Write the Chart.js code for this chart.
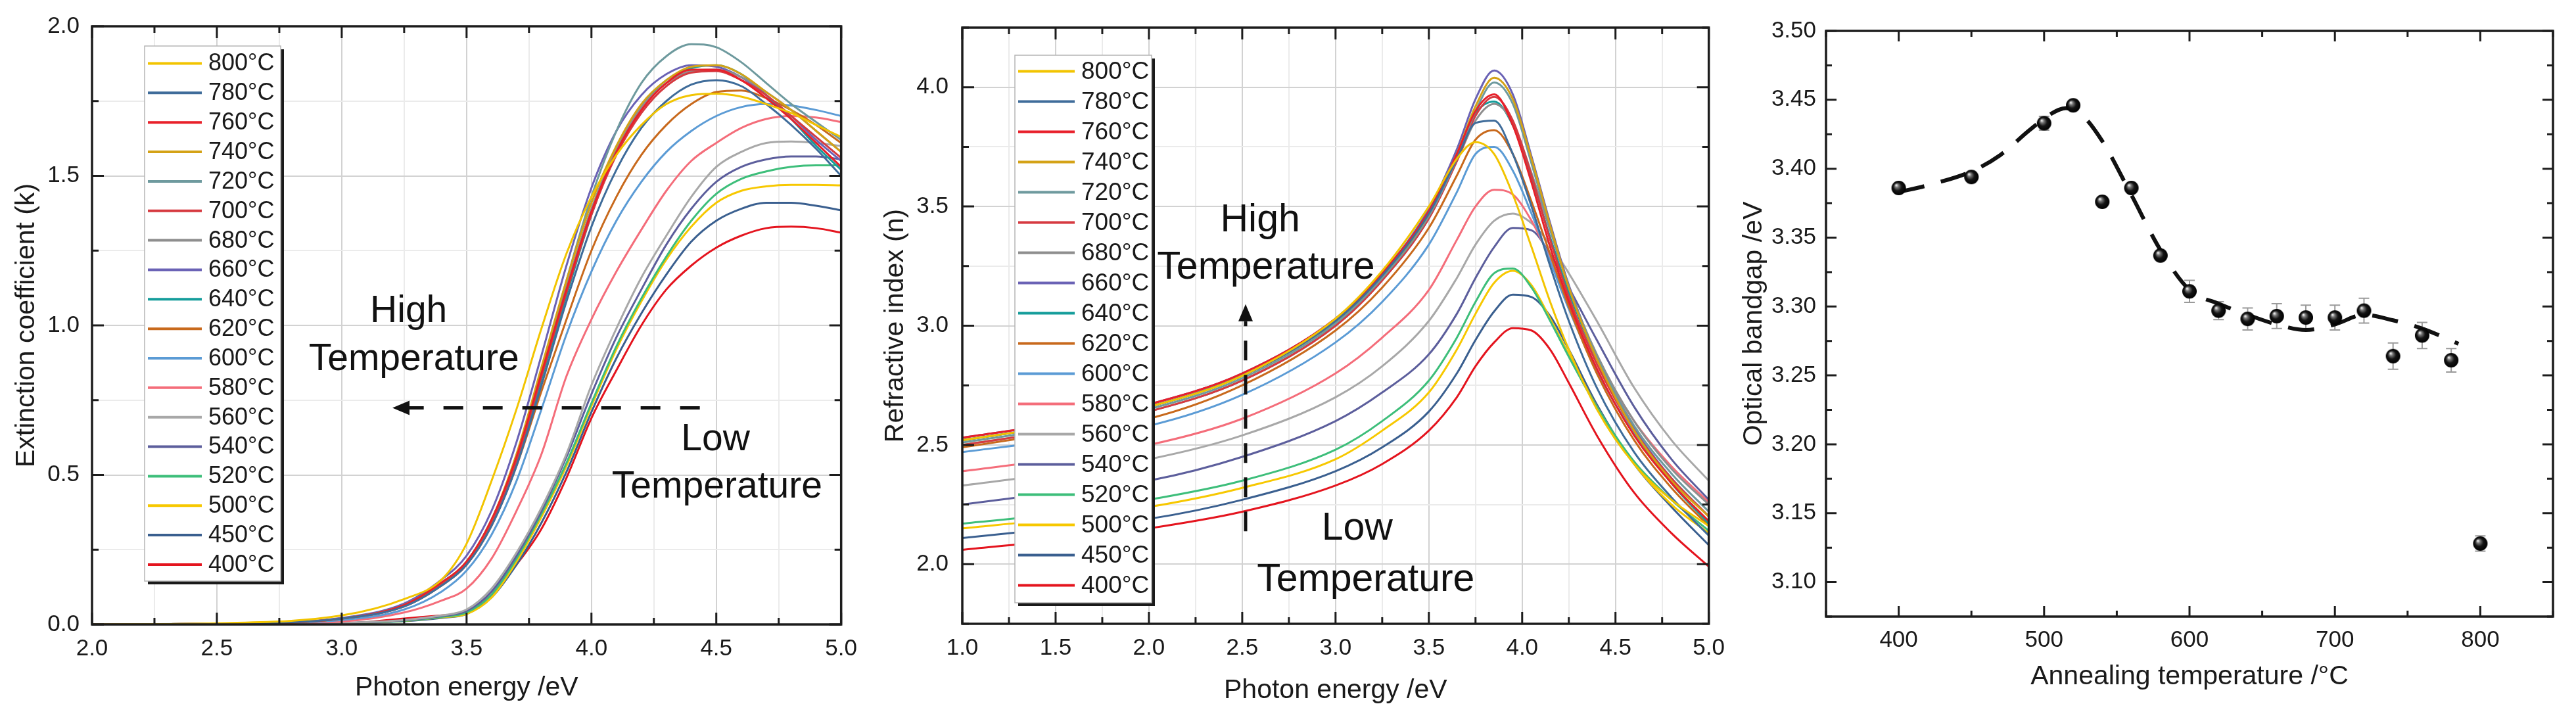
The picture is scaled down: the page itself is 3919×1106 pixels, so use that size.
<!DOCTYPE html>
<html><head><meta charset="utf-8">
<script src="https://cdn.jsdelivr.net/npm/chart.js@4.4.1/dist/chart.umd.min.js"></script>
<style>
html,body{margin:0;padding:0;background:#fff;width:3919px;height:1106px;overflow:hidden}
.p{position:absolute;top:0;height:1106px}
canvas{display:block}
</style></head><body>
<div class="p" style="left:0;width:1320px"><canvas id="c1" width="1320" height="1106"></canvas></div>
<div class="p" style="left:1320px;width:1320px"><canvas id="c2" width="1320" height="1106"></canvas></div>
<div class="p" style="left:2640px;width:1279px"><canvas id="c3" width="1279" height="1106"></canvas></div>
<script>
// ---------------- DATA ----------------
const temperatures = ['800°C','780°C','760°C','740°C','720°C','700°C','680°C','660°C','640°C','620°C','600°C','580°C','560°C','540°C','520°C','500°C','450°C','400°C'];

// Extinction coefficient k vs photon energy (eV)
const kEnergy = [2.0,2.5,3.0,3.25,3.4,3.5,3.6,3.7,3.8,3.9,4.0,4.1,4.2,4.3,4.4,4.5,4.6,4.7,4.8,4.9,5.0];
const k800 = [0,0.004,0.03,0.085,0.15,0.27,0.48,0.72,0.99,1.24,1.43,1.57,1.67,1.74,1.77,1.775,1.765,1.74,1.71,1.67,1.63];
const k780 = [0,0.002,0.02,0.06,0.13,0.2,0.33,0.53,0.8,1.08,1.33,1.52,1.66,1.75,1.805,1.82,1.8,1.74,1.67,1.59,1.5];
const k760 = [0,0.002,0.02,0.065,0.14,0.21,0.35,0.56,0.84,1.12,1.38,1.58,1.72,1.81,1.855,1.855,1.82,1.76,1.69,1.61,1.53];
const k740 = [0,0.002,0.02,0.065,0.14,0.21,0.35,0.57,0.86,1.15,1.41,1.6,1.74,1.82,1.865,1.87,1.84,1.78,1.72,1.65,1.58];
const k720 = [0,0.002,0.02,0.065,0.14,0.21,0.35,0.56,0.85,1.15,1.43,1.65,1.81,1.9,1.94,1.93,1.88,1.81,1.74,1.68,1.62];
const k700 = [0,0.002,0.02,0.062,0.135,0.2,0.34,0.55,0.83,1.11,1.37,1.57,1.71,1.8,1.845,1.85,1.82,1.77,1.7,1.63,1.56];
const k680 = [0,0.002,0.02,0.063,0.138,0.21,0.35,0.56,0.84,1.13,1.39,1.59,1.73,1.81,1.85,1.855,1.83,1.78,1.72,1.65,1.58];
const k660 = [0,0.002,0.022,0.07,0.15,0.23,0.38,0.61,0.9,1.2,1.46,1.65,1.77,1.84,1.87,1.865,1.83,1.77,1.7,1.62,1.55];
const k640 = [0,0.002,0.02,0.062,0.135,0.2,0.34,0.54,0.82,1.1,1.37,1.58,1.73,1.82,1.86,1.87,1.84,1.77,1.69,1.6,1.52];
const k620 = [0,0.002,0.02,0.06,0.13,0.2,0.33,0.53,0.78,1.02,1.25,1.43,1.57,1.67,1.74,1.78,1.785,1.76,1.72,1.67,1.61];
const k600 = [0,0.002,0.015,0.05,0.11,0.18,0.3,0.48,0.72,0.97,1.18,1.35,1.48,1.58,1.65,1.7,1.73,1.74,1.735,1.72,1.7];
const k580 = [0,0.001,0.01,0.04,0.08,0.12,0.22,0.38,0.57,0.83,1.02,1.18,1.32,1.45,1.55,1.61,1.66,1.69,1.7,1.695,1.68];
const k560 = [0,0,0.005,0.015,0.03,0.05,0.12,0.24,0.39,0.57,0.8,0.99,1.16,1.3,1.43,1.53,1.58,1.61,1.615,1.61,1.6];
const k540 = [0,0,0.005,0.014,0.028,0.045,0.11,0.23,0.38,0.56,0.77,0.96,1.12,1.27,1.39,1.48,1.53,1.555,1.565,1.565,1.555];
const k520 = [0,0,0.004,0.012,0.025,0.04,0.1,0.22,0.37,0.54,0.74,0.93,1.09,1.23,1.35,1.44,1.49,1.515,1.53,1.535,1.535];
const k500 = [0,0,0.004,0.012,0.024,0.035,0.09,0.21,0.36,0.53,0.73,0.92,1.08,1.22,1.33,1.41,1.45,1.465,1.47,1.47,1.468];
const k450 = [0,0,0.004,0.011,0.022,0.035,0.09,0.2,0.34,0.51,0.71,0.89,1.04,1.17,1.28,1.35,1.39,1.41,1.41,1.4,1.385];
const k400 = [0,0,0.003,0.02,0.03,0.04,0.1,0.2,0.32,0.49,0.69,0.85,1.0,1.12,1.2,1.26,1.3,1.325,1.33,1.325,1.31];

// Refractive index n vs photon energy (eV)
const nEnergy = [1.0,1.5,2.0,2.5,3.0,3.25,3.5,3.65,3.75,3.85,3.95,4.05,4.15,4.25,4.4,4.6,4.8,5.0];
const n800 = [2.52,2.58,2.66,2.79,3.03,3.23,3.5,3.7,3.77,3.72,3.55,3.33,3.1,2.9,2.65,2.42,2.27,2.16];
const n780 = [2.52,2.58,2.66,2.79,3.02,3.21,3.47,3.7,3.85,3.86,3.72,3.5,3.25,3.02,2.74,2.47,2.28,2.12];
const n760 = [2.53,2.59,2.67,2.8,3.03,3.22,3.48,3.72,3.9,3.97,3.84,3.6,3.33,3.1,2.82,2.54,2.34,2.18];
const n740 = [2.52,2.58,2.66,2.79,3.02,3.21,3.47,3.72,3.92,4.04,3.95,3.7,3.42,3.16,2.86,2.56,2.35,2.2];
const n720 = [2.51,2.57,2.65,2.78,3.01,3.2,3.46,3.7,3.9,4.02,3.93,3.68,3.41,3.16,2.87,2.58,2.38,2.22];
const n700 = [2.5,2.56,2.64,2.77,3.0,3.19,3.45,3.69,3.88,3.96,3.86,3.63,3.36,3.12,2.84,2.56,2.36,2.2];
const n680 = [2.5,2.56,2.64,2.77,3.0,3.19,3.45,3.69,3.86,3.93,3.85,3.64,3.4,3.16,2.88,2.6,2.4,2.25];
const n660 = [2.53,2.59,2.67,2.8,3.03,3.22,3.49,3.74,3.95,4.07,3.97,3.71,3.43,3.17,2.87,2.57,2.36,2.2];
const n640 = [2.52,2.58,2.66,2.79,3.02,3.21,3.47,3.71,3.89,3.94,3.84,3.62,3.37,3.14,2.86,2.56,2.34,2.17];
const n620 = [2.49,2.55,2.61,2.75,2.98,3.16,3.41,3.63,3.78,3.82,3.72,3.52,3.3,3.08,2.8,2.52,2.32,2.16];
const n600 = [2.47,2.52,2.58,2.71,2.93,3.1,3.34,3.56,3.72,3.75,3.65,3.47,3.27,3.07,2.81,2.55,2.36,2.2];
const n580 = [2.39,2.44,2.5,2.61,2.8,2.95,3.15,3.36,3.5,3.57,3.55,3.44,3.28,3.1,2.86,2.6,2.41,2.26];
const n560 = [2.33,2.38,2.44,2.54,2.7,2.83,3.02,3.2,3.34,3.44,3.47,3.43,3.34,3.22,3.02,2.74,2.52,2.35];
const n540 = [2.25,2.3,2.35,2.45,2.6,2.72,2.88,3.05,3.2,3.33,3.41,3.4,3.3,3.16,2.94,2.66,2.44,2.27];
const n520 = [2.17,2.21,2.27,2.35,2.48,2.6,2.77,2.95,3.1,3.22,3.24,3.16,3.02,2.87,2.66,2.43,2.27,2.14];
const n500 = [2.15,2.19,2.24,2.32,2.44,2.56,2.72,2.9,3.05,3.18,3.23,3.17,3.03,2.88,2.66,2.42,2.25,2.13];
const n450 = [2.11,2.15,2.19,2.27,2.39,2.49,2.64,2.8,2.94,3.06,3.13,3.12,3.04,2.9,2.67,2.42,2.24,2.08];
const n400 = [2.06,2.1,2.15,2.22,2.33,2.42,2.56,2.7,2.83,2.93,2.99,2.98,2.9,2.76,2.54,2.3,2.13,1.99];

// Optical bandgap vs annealing temperature
const annealTemps = [400,450,500,520,540,560,580,600,620,640,660,680,700,720,740,760,780,800];
const bandgap = [3.386,3.394,3.433,3.446,3.376,3.386,3.337,3.311,3.297,3.291,3.293,3.292,3.292,3.297,3.264,3.279,3.261,3.128];
const bandgapErr = [0.002,0.002,0.005,0.002,0.002,0.002,0.003,0.008,0.0065,0.008,0.009,0.009,0.009,0.009,0.0095,0.0095,0.0085,0.0055];
const fitTemps = [400,420,450,470,490,505,515,525,540,560,580,600,620,640,660,680,700,720,740,760,785];
const fitBandgap = [3.383,3.388,3.398,3.41,3.428,3.44,3.444,3.44,3.42,3.381,3.341,3.312,3.302,3.294,3.287,3.283,3.287,3.294,3.29,3.284,3.273];

// ---------------- STYLE ----------------
const seriesColors = ['#F2C400','#3F6C9A','#E8202A','#D4A216','#6E9A9E','#D63A40','#8E8E8E','#6A62B5','#159D9B','#C8691C','#5B9BD5','#F46D7A','#A8A8A8','#5C5E9C','#3DBE7A','#F7C800','#3A5F8F','#E4141E'];
const kSeries = [k800,k780,k760,k740,k720,k700,k680,k660,k640,k620,k600,k580,k560,k540,k520,k500,k450,k400];
const nSeries = [n800,n780,n760,n740,n720,n700,n680,n660,n640,n620,n600,n580,n560,n540,n520,n500,n450,n400];

const FONT = '"Liberation Sans", Arial, Helvetica, sans-serif';
Chart.defaults.font.family = FONT;
Chart.defaults.color = '#1a1a1a';

function isMult(v, step){ const r = v/step; return Math.abs(r - Math.round(r)) < 1e-6; }

function makeAxis(o){
  return {
    type:'linear', min:o.min, max:o.max,
    afterFit(scale){ if (o.isX) scale.height = o.size; else scale.width = o.size; },
    ticks:{ stepSize:o.step, autoSkip:false, maxRotation:0, padding:o.tickPad, color:'#1a1a1a',
      font:{size:o.tickSize},
      callback:(v)=> isMult(v,o.major) ? Number(v).toFixed(o.dec) : '' },
    grid:{ display:o.grid, drawTicks:false, lineWidth:2,
      color:(c)=> (c.tick && isMult(c.tick.value,o.major)) ? '#d2d2d2' : '#ebebeb' },
    border:{ display:false },
    title:{ display:true, text:o.title, color:'#1a1a1a', font:{size:o.titleSize}, padding:o.titlePad }
  };
}

function drawFrame(chart, xStep, yStep, majL, minL){
  const {ctx, chartArea:{left,right,top,bottom}, scales:{x,y}} = chart;
  ctx.save();
  ctx.strokeStyle = '#1c1c1c'; ctx.lineWidth = 3; ctx.setLineDash([]);
  ctx.beginPath();
  x.ticks.forEach(t=>{ const px = x.getPixelForValue(t.value); const L = isMult(t.value,xStep)?majL:minL;
    ctx.moveTo(px,bottom); ctx.lineTo(px,bottom-L); ctx.moveTo(px,top); ctx.lineTo(px,top+L); });
  y.ticks.forEach(t=>{ const py = y.getPixelForValue(t.value); const L = isMult(t.value,yStep)?majL:minL;
    ctx.moveTo(left,py); ctx.lineTo(left+L,py); ctx.moveTo(right,py); ctx.lineTo(right-L,py); });
  ctx.stroke();
  ctx.lineWidth = 3.5;
  ctx.strokeRect(left,top,right-left,bottom-top);
  ctx.restore();
}

function drawLegend(chart, box){
  const ctx = chart.ctx;
  ctx.save();
  ctx.fillStyle = '#1a1a1a';
  ctx.fillRect(box.x+5, box.y+5, box.w, box.h);
  ctx.fillStyle = '#fff';
  ctx.fillRect(box.x, box.y, box.w, box.h);
  ctx.strokeStyle = '#b5b5b5'; ctx.lineWidth = 1.5;
  ctx.strokeRect(box.x, box.y, box.w, box.h);
  ctx.font = box.font + 'px ' + FONT;
  ctx.textBaseline = 'middle'; ctx.textAlign = 'left';
  chart.data.datasets.forEach((ds,i)=>{
    const yy = box.first + i*box.step;
    ctx.strokeStyle = ds.borderColor; ctx.lineWidth = 4;
    ctx.beginPath(); ctx.moveTo(box.x+5, yy); ctx.lineTo(box.x+5+box.line, yy); ctx.stroke();
    ctx.fillStyle = '#1a1a1a';
    ctx.fillText(ds.label, box.x+box.line+15, yy+1);
  });
  ctx.restore();
}

function drawText(chart, items, size){
  const {ctx, scales:{x,y}} = chart;
  ctx.save();
  ctx.fillStyle = '#111'; ctx.font = size+'px ' + FONT;
  ctx.textAlign = 'center'; ctx.textBaseline = 'alphabetic';
  items.forEach(it=> ctx.fillText(it.t, x.getPixelForValue(it.x), y.getPixelForValue(it.y)));
  ctx.restore();
}

function drawArrow(chart, a){
  const {ctx, scales:{x,y}} = chart;
  const x0 = x.getPixelForValue(a.x0), y0 = y.getPixelForValue(a.y0);
  const x1 = x.getPixelForValue(a.x1), y1 = y.getPixelForValue(a.y1);
  const len = Math.hypot(x1-x0, y1-y0), ux = (x1-x0)/len, uy = (y1-y0)/len;
  const head = 26, half = 11;
  ctx.save();
  ctx.strokeStyle = '#111'; ctx.lineWidth = 5; ctx.setLineDash(a.dash);
  ctx.beginPath(); ctx.moveTo(x0,y0); ctx.lineTo(x1-ux*head, y1-uy*head); ctx.stroke();
  ctx.setLineDash([]); ctx.fillStyle = '#111';
  ctx.beginPath(); ctx.moveTo(x1,y1);
  ctx.lineTo(x1-ux*head - uy*half, y1-uy*head + ux*half);
  ctx.lineTo(x1-ux*head + uy*half, y1-uy*head - ux*half);
  ctx.closePath(); ctx.fill();
  ctx.restore();
}

function lineDatasets(energy, series){
  return series.map((arr,i)=>({
    label: temperatures[i],
    data: energy.map((e,j)=>({x:e, y:arr[j]})),
    borderColor: seriesColors[i], borderWidth: 3, pointRadius: 0,
    cubicInterpolationMode: 'monotone', fill:false
  }));
}

const common = { responsive:false, animation:false, events:[], devicePixelRatio:1,
  plugins:{ legend:{display:false}, tooltip:{enabled:false} } };

// ---------------- PANEL 1: k ----------------
new Chart(document.getElementById('c1'), {
  type:'line',
  data:{ datasets: lineDatasets(kEnergy, kSeries) },
  options:Object.assign({}, common, {
    layout:{ padding:{ left:0, top:33, right:40, bottom:0 } },
    scales:{
      x: makeAxis({isX:true, size:156, min:2, max:5, step:0.25, major:0.5, dec:1, tickPad:16, tickSize:35, grid:true,
                   title:'Photon energy /eV', titleSize:41, titlePad:{top:0,bottom:35}}),
      y: makeAxis({isX:false, size:140, min:0, max:2, step:0.25, major:0.5, dec:1, tickPad:19, tickSize:35, grid:true,
                   title:'Extinction coefficient (k)', titleSize:41, titlePad:{top:16,bottom:0}})
    }
  }),
  plugins:[{ id:'deco1', afterDatasetsDraw(chart){
    drawText(chart, [{t:'High', x:3.268, y:1.012},{t:'Temperature', x:3.289, y:0.851},
                     {t:'Low', x:4.497, y:0.582},{t:'Temperature', x:4.503, y:0.425}], 57);
    drawArrow(chart, {x0:4.434, y0:0.724, x1:3.203, y1:0.724, dash:[30,30]});
    drawLegend(chart, {x:220, y:70, w:207, h:814, first:96.5, step:44.85, line:82, font:36});
    drawFrame(chart, 0.5, 0.5, 18, 10);
  }}]
});

// ---------------- PANEL 2: n ----------------
new Chart(document.getElementById('c2'), {
  type:'line',
  data:{ datasets: lineDatasets(nEnergy, nSeries) },
  options:Object.assign({}, common, {
    layout:{ padding:{ left:0, top:33, right:38, bottom:0 } },
    scales:{
      x: makeAxis({isX:true, size:157, min:1, max:5, step:0.25, major:0.5, dec:1, tickPad:16, tickSize:35, grid:true,
                   title:'Photon energy /eV', titleSize:41, titlePad:{top:0,bottom:31}}),
      y: makeAxis({isX:false, size:144, min:1.75, max:4.25, step:0.25, major:0.5, dec:1, tickPad:21, tickSize:35, grid:true,
                   title:'Refractive index (n)', titleSize:41, titlePad:{top:18,bottom:0}})
    }
  }),
  plugins:[{ id:'deco2', afterDatasetsDraw(chart){
    drawLegend(chart, {x:224, y:84, w:208, h:833, first:108.5, step:46, line:86, font:37});
    drawText(chart, [{t:'High', x:2.596, y:3.396},{t:'Temperature', x:2.627, y:3.196},
                     {t:'Low', x:3.116, y:2.102},{t:'Temperature', x:3.162, y:1.889}], 59);
    drawArrow(chart, {x0:2.518, y0:2.138, x1:2.518, y1:3.09, dash:[30,22]});
    drawFrame(chart, 0.5, 0.5, 18, 10);
  }}]
});

// ---------------- PANEL 3: bandgap ----------------
function sphereImage(r){
  const c = document.createElement('canvas'); c.width = c.height = 2*r+2;
  const g = c.getContext('2d'); const cx = r+1;
  const grad = g.createRadialGradient(cx-r*0.35, cx-r*0.4, r*0.05, cx, cx, r);
  grad.addColorStop(0,'#f0f0f0'); grad.addColorStop(0.22,'#777'); grad.addColorStop(0.55,'#151515'); grad.addColorStop(1,'#000');
  g.fillStyle = grad; g.beginPath(); g.arc(cx,cx,r,0,Math.PI*2); g.fill();
  return c;
}
const sphere = sphereImage(11);

new Chart(document.getElementById('c3'), {
  type:'line',
  data:{ datasets:[
    { label:'Optical bandgap', data: annealTemps.map((t,i)=>({x:t, y:bandgap[i]})),
      showLine:false, pointStyle:sphere, pointRadius:11, borderColor:'#000', backgroundColor:'#000' },
    { label:'Fit', data: fitTemps.map((t,i)=>({x:t, y:fitBandgap[i]})),
      borderColor:'#111', borderWidth:6, borderDash:[40,26], pointRadius:0, cubicInterpolationMode:'monotone', fill:false }
  ]},
  options:Object.assign({}, common, {
    layout:{ padding:{ left:0, top:47, right:35, bottom:0 } },
    scales:{
      x: makeAxis({isX:true, size:168, min:350, max:850, step:50, major:100, dec:0, tickPad:15, tickSize:35, grid:false,
                   title:'Annealing temperature /°C', titleSize:41, titlePad:{top:0,bottom:52}}),
      y: makeAxis({isX:false, size:138, min:3.075, max:3.5, step:0.025, major:0.05, dec:2, tickPad:15, tickSize:35, grid:false,
                   title:'Optical bandgap /eV', titleSize:41, titlePad:{top:4,bottom:0}})
    }
  }),
  plugins:[{ id:'errbars', beforeDatasetsDraw(chart){
    const {ctx, scales:{x,y}} = chart;
    ctx.save(); ctx.strokeStyle = '#9a9a9a'; ctx.lineWidth = 2;
    ctx.beginPath();
    annealTemps.forEach((t,i)=>{
      const px = x.getPixelForValue(t);
      const yt = y.getPixelForValue(bandgap[i]+bandgapErr[i]);
      const yb = y.getPixelForValue(bandgap[i]-bandgapErr[i]);
      ctx.moveTo(px,yt); ctx.lineTo(px,yb);
      ctx.moveTo(px-8,yt); ctx.lineTo(px+8,yt);
      ctx.moveTo(px-8,yb); ctx.lineTo(px+8,yb);
    });
    ctx.stroke(); ctx.restore();
  }, afterDatasetsDraw(chart){
    drawFrame(chart, 100, 0.05, 16, 9);
  }}]
});
</script>
</body></html>
